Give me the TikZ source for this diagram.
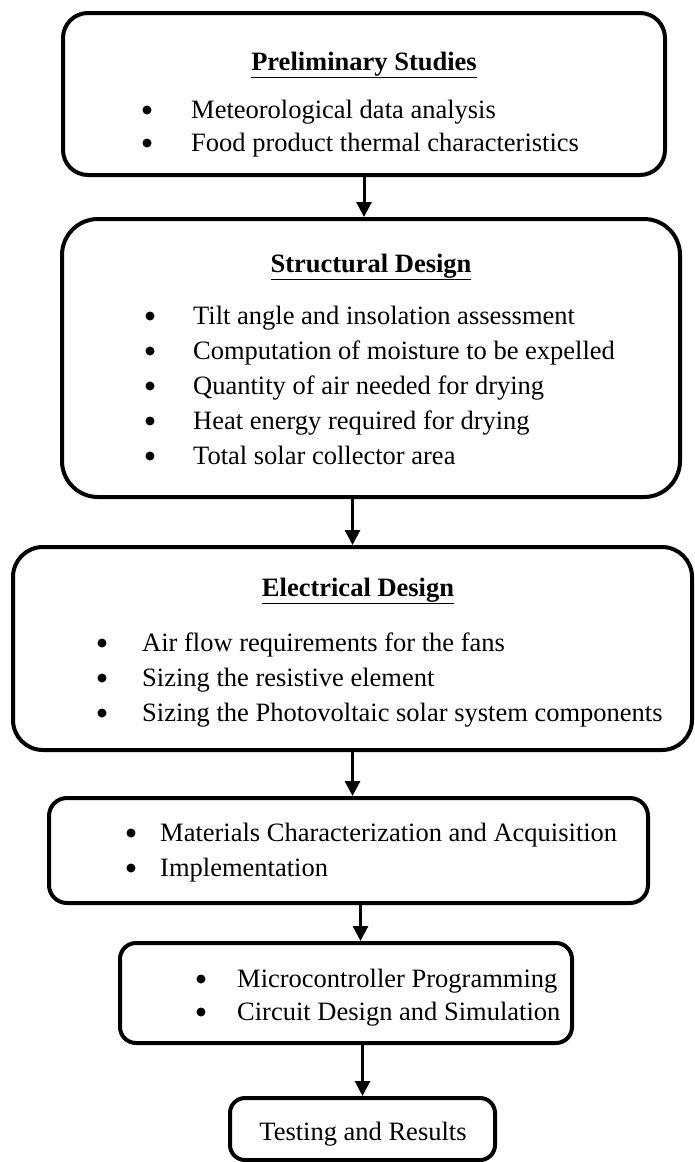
\documentclass[tikz,border=0pt]{standalone}
\usepackage{fontspec}
\setmainfont{Liberation Serif}
\usepackage{tikz}
\usetikzlibrary{arrows.meta, positioning}
\tikzset{
  stagebox/.style={rectangle, draw=black, line width=4pt, inner sep=0pt},
  headtext/.style={font=\fontsize{26.5}{30}\selectfont\bfseries, anchor=base, inner sep=0pt},
  itemtext/.style={font=\fontsize{26.5}{30}\selectfont, anchor=base west, inner sep=0pt},
  plaintext/.style={font=\fontsize{26.5}{30}\selectfont, anchor=base, inner sep=0pt},
  bulletdot/.style={circle, fill=black, inner sep=0pt, minimum size=9pt},
  arrow/.style={-{Triangle[length=15pt, width=15pt]}, line width=3pt}
}

\begin{document}
\begin{tikzpicture}[x=1pt, y=-1pt]
  \useasboundingbox (0,0) rectangle (694,1162);

  % Boxes
  \node[stagebox, rounded corners=25pt, minimum width=602pt, minimum height=162pt] (prelim) at (364,94) {};
  \node[stagebox, rounded corners=36pt, minimum width=618pt, minimum height=278pt] (struct) at (371,358) {};
  \node[stagebox, rounded corners=30pt, minimum width=679pt, minimum height=203pt] (elec) at (352.5,648.5) {};
  \node[stagebox, rounded corners=18pt, minimum width=599pt, minimum height=105pt] (mater) at (348.5,850.5) {};
  \node[stagebox, rounded corners=16pt, minimum width=452pt, minimum height=100pt] (micro) at (346,993) {};
  \node[stagebox, rounded corners=15pt, minimum width=265pt, minimum height=62pt] (test) at (362.5,1129) {};

  % Preliminary studies
  \node[headtext] (prelimT) at (364,70) {\underline{Preliminary Studies}};
  \node[bulletdot] (prelimB1) at (147,110) {};
  \node[bulletdot] (prelimB2) at (147,143) {};
  \node[itemtext] (prelim1) at (191,118) {Meteorological data analysis};
  \node[itemtext] (prelim2) at (191,151) {Food product thermal characteristics};

  % Structural design
  \node[headtext] (structT) at (371,272) {\underline{Structural Design}};
  \node[bulletdot] (structB1) at (150,316) {};
  \node[bulletdot] (structB2) at (150,351) {};
  \node[bulletdot] (structB3) at (150,386) {};
  \node[bulletdot] (structB4) at (150,421) {};
  \node[bulletdot] (structB5) at (150,456) {};
  \node[itemtext] (struct1) at (193,324) {Tilt angle and insolation assessment};
  \node[itemtext] (struct2) at (193,359) {Computation of moisture to be expelled};
  \node[itemtext] (struct3) at (193,394) {Quantity of air needed for drying};
  \node[itemtext] (struct4) at (193,429) {Heat energy required for drying};
  \node[itemtext] (struct5) at (193,464) {Total solar collector area};

  % Electrical design
  \node[headtext] (elecT) at (358,596) {\underline{Electrical Design}};
  \node[bulletdot] (elecB1) at (102,643) {};
  \node[bulletdot] (elecB2) at (102,678) {};
  \node[bulletdot] (elecB3) at (102,713) {};
  \node[itemtext] (elec1) at (142,651) {Air flow requirements for the fans};
  \node[itemtext] (elec2) at (142,686) {Sizing the resistive element};
  \node[itemtext] (elec3) at (142,721) {Sizing the Photovoltaic solar system components};

  % Materials
  \node[bulletdot] (materB1) at (131,833) {};
  \node[bulletdot] (materB2) at (131,868) {};
  \node[itemtext] (mater1) at (160,841) {Materials Characterization and Acquisition};
  \node[itemtext] (mater2) at (160,876) {Implementation};

  % Microcontroller
  \node[bulletdot] (microB1) at (201,979) {};
  \node[bulletdot] (microB2) at (201,1012) {};
  \node[itemtext] (micro1) at (237,987) {Microcontroller Programming};
  \node[itemtext] (micro2) at (237,1020) {Circuit Design and Simulation};

  % Testing
  \node[plaintext] (testT) at (363,1140) {Testing and Results};

  % Arrows
  \draw[arrow] (prelim.south) -- (prelim.south |- struct.north);
  \draw[arrow] (struct.south -| elec.north) -- (elec.north);
  \draw[arrow] (elec.south) -- (elec.south |- mater.north);
  \draw[arrow] ([xshift=12pt]mater.south) -- ([xshift=12pt]mater.south |- micro.north);
  \draw[arrow] (micro.south -| test.north) -- (test.north);
\end{tikzpicture}
\end{document}
